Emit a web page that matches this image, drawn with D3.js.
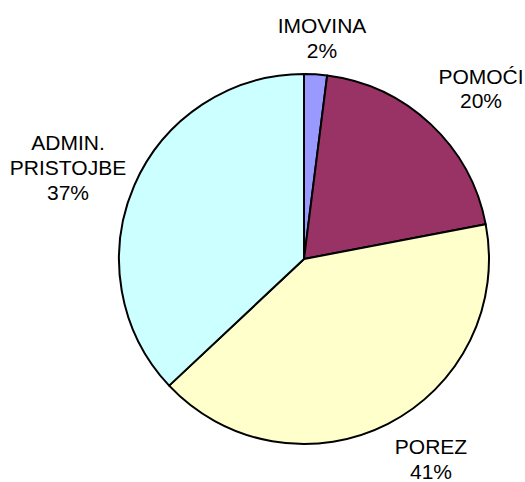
<!DOCTYPE html>
<html>
<head>
<meta charset="utf-8">
<script src="https://cdn.jsdelivr.net/npm/d3@7"></script>
<style>
  html, body { margin: 0; padding: 0; background: #fff; }
  text { font-family: Arial, "Liberation Sans", sans-serif; font-size: 21px; fill: #000; }
</style>
</head>
<body>
<svg id="chart" width="525" height="482"></svg>
<script>
const categories = ['IMOVINA', 'POMOĆI', 'POREZ', 'ADMIN. PRISTOJBE'];
const values = [2, 20, 41, 37];
const labelLines = [['IMOVINA'], ['POMOĆI'], ['POREZ'], ['ADMIN.', 'PRISTOJBE']];
const colors = ['#9999FF', '#993366', '#FFFFCC', '#CCFFFF'];

const cx = 304;
const cy = 259;
const radius = 185;
const lineH = 24.8;

// label positions (first line baseline, centred)
const labelPos = [[322, 33], [481, 83.5], [431, 454], [68, 150]];

const svg = d3.select('#chart');
const g = svg.append('g').attr('transform', `translate(${cx},${cy})`);

const data = categories.map((c, i) => ({ name: c, value: values[i], lines: labelLines[i], color: colors[i] }));

const pie = d3.pie().sort(null).value(d => d.value);
const arc = d3.arc().innerRadius(0).outerRadius(radius);
const arcs = pie(data);

g.selectAll('.slice')
  .data(arcs)
  .enter()
  .append('path')
  .attr('class', 'slice')
  .attr('d', arc)
  .attr('fill', d => d.data.color)
  .attr('stroke', '#000')
  .attr('stroke-width', 2)
  .attr('stroke-linejoin', 'round');

const labels = svg.selectAll('.label')
  .data(arcs)
  .enter()
  .append('text')
  .attr('class', 'label')
  .attr('text-anchor', 'middle')
  .attr('transform', (d, i) => `translate(${labelPos[i][0]},${labelPos[i][1]})`);

labels.each(function (d) {
  const lines = d.data.lines.concat([d.data.value + '%']);
  const t = d3.select(this);
  lines.forEach((l, i) => {
    t.append('tspan').attr('x', 0).attr('y', i * lineH).text(l);
  });
});
</script>
</body>
</html>
